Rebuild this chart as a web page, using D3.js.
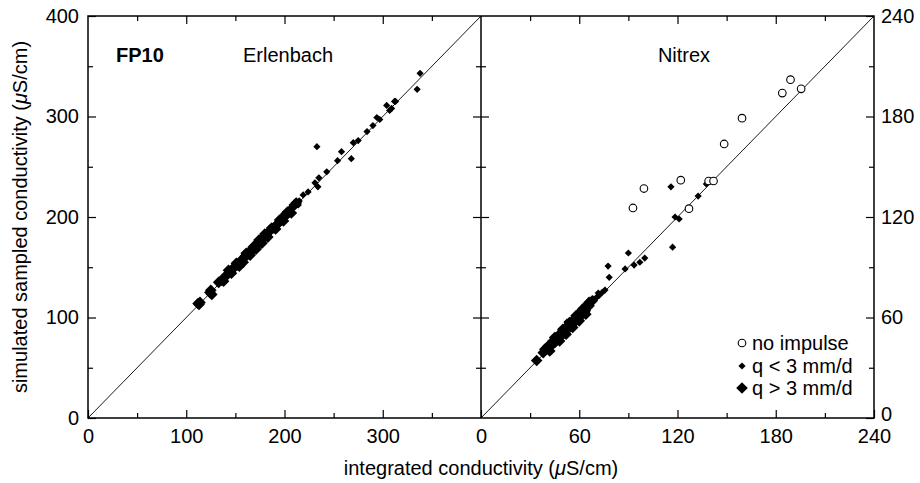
<!DOCTYPE html>
<html><head><meta charset="utf-8">
<script src="https://cdn.jsdelivr.net/npm/d3@7"></script>
<style>
body{margin:0;background:#fff}
svg text{font-family:"Liberation Sans",Arial,Helvetica,sans-serif;fill:#000}
</style>
</head><body>
<svg id="c" width="920" height="483"></svg>
<script>
// ---------- data ----------
const leftTicks = [0, 100, 200, 300];
const leftYTicks = [0, 100, 200, 300, 400];
const leftMinor = [50, 150, 250, 350];
const rightTicks = [0, 60, 120, 180, 240];
const rightMinor = [30, 90, 150, 210];

const panelTitles = ["Erlenbach", "Nitrex"];
const legendLabels = ["no impulse", "q < 3 mm/d", "q > 3 mm/d"];

// Erlenbach, q < 3 mm/d (small diamonds) [integrated, simulated]
const erlSmall = [
  [145,147],[150,151],[155,154],[158,160],[162,161],[166,167],[170,171],[172,170],[176,178],[180,181],
  [184,183],[188,190],[191,192],[195,196],[198,197],[202,204],[205,206],[208,208],[212,213],[215,216],
  [219,222],[224,225],[231,234],[234,230],[235,239],[233,270],[243,245],[254,256],[258,265],[268,258],
  [270,274],[275,276],[284,285],[290,291],[294,299],[297,297],[304,311],[307,306],[309,308],[312,315],
  [313,315],[335,327],[338,343],[147,145],[152,150],[160,158],[168,166],[174,176],[178,176],[186,188],
  [193,195],[200,199],[210,210],[164,163],[156,157],[182,184],[196,194],[206,209],[211,215],[214,212],
  [199,203],[192,189],[185,189],[177,174],[171,175],[165,162]
];
// Erlenbach, q > 3 mm/d (large diamonds)
const erlLarge = [
  [112,114],[113,113],[114,115],[124,125],[126,123],[125,127],[133,135],[136,137],[139,140],[138,136],
  [141,142],[144,145],[143,147],[147,148],[146,144],[149,150],[151,154],[152,153],[154,151],[155,155],
  [157,158],[158,155],[160,161],[161,164],[163,164],[165,162],[166,166],[168,170],[169,170],[171,168],
  [172,173],[174,177],[175,175],[177,174],[178,179],[180,183],[181,182],[183,180],[185,186],[187,189],
  [189,189],[191,188],[193,193],[195,197],[197,198],[199,196],[201,201],[203,205],[205,205],[207,204],
  [210,212],[212,214]
];

// Nitrex, no impulse (open circles)
const nitNone = [
  [92.8,125.4],[99.5,137],[122,142],[127,125],[139,141.5],[142,141.5],[148.5,163.6],[159.4,179],
  [184,194],[189,202],[195.5,196.5]
];
// Nitrex, q < 3 mm/d
const nitSmall = [
  [116,138],[137.6,139.7],[132.6,132.5],[118.5,120],[121,118.8],[117,102],[90,98.5],[100,95.5],
  [77.6,90.7],[78.3,84],[88,89],[93.5,91.3],[97,93],[75.7,76.4],[71.6,74.6],[70.8,72.2],[63.5,67.5],
  [52.5,57.3],[42,41],[44,43],[46,45],[48,47],[50,49],[53,55],[55,57],[57,56],[59,61],[61,63],
  [63,62],[65,64],[67,69],[69,71],[72,73],[74,75],[66,70],[60,64],[56,54]
];
// Nitrex, q > 3 mm/d
const nitLarge = [
  [34,34.3],[38,39],[39,41],[40,41],[41,43],[42,40],[43,44],[44,46],[45,45],[45,48],[46,48],[47,47],
  [48,50],[48,46],[49,49],[50,52],[50,53],[51,51],[52,54],[52,50],[53,53],[54,56],[54,57],[55,55],
  [56,58],[56,54],[57,57],[58,60],[58,61],[59,59],[60,62],[60,58],[61,61],[62,64],[62,65],[63,63],
  [64,66],[64,62],[66,67],[66,69],[68,70]
];

// ---------- layout ----------
const svg = d3.select("#c");
const X0 = 88, XM = 481, X1 = 874, Y0 = 418, Y1 = 16;
const xL = d3.scaleLinear([0, 400], [X0, XM]);
const yL = d3.scaleLinear([0, 400], [Y0, Y1]);
const xR = d3.scaleLinear([0, 240], [XM, X1]);
const yR = d3.scaleLinear([0, 240], [Y0, Y1]);
const FS = 20, MAJ = 8, MIN = 5;

function ax(gen, tx, ty, showLabels) {
  const g = svg.append("g").attr("transform", `translate(${tx},${ty})`).call(gen);
  g.select(".domain").remove();
  g.selectAll(".tick line").attr("stroke", "#000").attr("stroke-width", 1.2);
  g.selectAll("text").style("font-size", FS + "px").attr("fill", "#000");
  if (!showLabels) g.selectAll("text").remove();
  return g;
}
// left panel
ax(d3.axisBottom(xL).tickValues(leftTicks).tickSize(-MAJ).tickPadding(11), 0, Y0, true);
ax(d3.axisBottom(xL).tickValues(leftMinor).tickSize(-MIN).tickFormat(""), 0, Y0, false);
ax(d3.axisTop(xL).tickValues([100,200,300]).tickSize(-MAJ), 0, Y1, false);
ax(d3.axisTop(xL).tickValues(leftMinor).tickSize(-MIN), 0, Y1, false);
ax(d3.axisLeft(yL).tickValues(leftYTicks).tickSize(-MAJ).tickPadding(9), X0, 0, true);
ax(d3.axisLeft(yL).tickValues(leftMinor).tickSize(-MIN), X0, 0, false);
ax(d3.axisRight(yL).tickValues([100,200,300]).tickSize(-MAJ), XM, 0, false);
ax(d3.axisRight(yL).tickValues(leftMinor).tickSize(-MIN), XM, 0, false);
// right panel
ax(d3.axisBottom(xR).tickValues(rightTicks).tickSize(-MAJ).tickPadding(11), 0, Y0, true);
ax(d3.axisBottom(xR).tickValues(rightMinor).tickSize(-MIN), 0, Y0, false);
ax(d3.axisTop(xR).tickValues([60,120,180]).tickSize(-MAJ), 0, Y1, false);
ax(d3.axisTop(xR).tickValues(rightMinor).tickSize(-MIN), 0, Y1, false);
ax(d3.axisLeft(yR).tickValues([60,120,180]).tickSize(-MAJ), XM, 0, false);
ax(d3.axisLeft(yR).tickValues(rightMinor).tickSize(-MIN), XM, 0, false);
const ra = ax(d3.axisRight(yR).tickValues(rightTicks).tickSize(-MAJ).tickPadding(7), X1, 0, true);
ra.selectAll("text").filter(d => d === 0).attr("dy", "0.1em");
ax(d3.axisRight(yR).tickValues(rightMinor).tickSize(-MIN), X1, 0, false);

// frames
svg.append("rect").attr("x", X0).attr("y", Y1).attr("width", X1 - X0).attr("height", Y0 - Y1)
  .attr("fill", "none").attr("stroke", "#000").attr("stroke-width", 1.5);
svg.append("line").attr("x1", XM).attr("x2", XM).attr("y1", Y1).attr("y2", Y0)
  .attr("stroke", "#000").attr("stroke-width", 1.5);

// 1:1 lines
svg.append("line").attr("x1", xL(0)).attr("y1", yL(0)).attr("x2", xL(400)).attr("y2", yL(400))
  .attr("stroke", "#000").attr("stroke-width", 0.9);
svg.append("line").attr("x1", xR(0)).attr("y1", yR(0)).attr("x2", xR(240)).attr("y2", yR(240))
  .attr("stroke", "#000").attr("stroke-width", 0.9);

// markers
const diamondSmall = "M0,-3.6L3.6,0L0,3.6L-3.6,0Z";
const diamondLarge = "M0,-5.8L5.8,0L0,5.8L-5.8,0Z";
function diamonds(data, sx, sy, path) {
  svg.append("g").selectAll("path").data(data).join("path")
    .attr("d", path).attr("fill", "#000")
    .attr("transform", d => `translate(${sx(d[0])},${sy(d[1])})`);
}
diamonds(erlLarge, xL, yL, diamondLarge);
diamonds(erlSmall, xL, yL, diamondSmall);
diamonds(nitLarge, xR, yR, diamondLarge);
diamonds(nitSmall, xR, yR, diamondSmall);
svg.append("g").selectAll("circle").data(nitNone).join("circle")
  .attr("cx", d => xR(d[0])).attr("cy", d => yR(d[1])).attr("r", 3.8)
  .attr("fill", "#fff").attr("stroke", "#000").attr("stroke-width", 1.1);

// titles
svg.append("text").attr("x", 116).attr("y", 62).style("font-size", FS + "px")
  .style("font-weight", "bold").text("FP10");
svg.append("text").attr("x", 243).attr("y", 62).style("font-size", FS + "px").text(panelTitles[0]);
svg.append("text").attr("x", 684).attr("y", 62).attr("text-anchor", "middle")
  .style("font-size", FS + "px").text(panelTitles[1]);

// axis titles
const xt = svg.append("text").attr("x", XM).attr("y", 475).attr("text-anchor", "middle")
  .style("font-size", FS + "px");
xt.append("tspan").text("integrated conductivity (");
xt.append("tspan").style("font-style", "italic").text("μ");
xt.append("tspan").text("S/cm)");
const yt = svg.append("text").attr("transform", `translate(27,${(Y0 + Y1) / 2}) rotate(-90)`)
  .attr("text-anchor", "middle").style("font-size", FS + "px");
yt.append("tspan").text("simulated sampled conductivity (");
yt.append("tspan").style("font-style", "italic").text("μ");
yt.append("tspan").text("S/cm)");

// legend
const lg = svg.append("g");
const lgY = [343, 366, 388];
lg.append("circle").attr("cx", 742).attr("cy", lgY[0]).attr("r", 3.8)
  .attr("fill", "#fff").attr("stroke", "#000").attr("stroke-width", 1.1);
lg.append("path").attr("d", diamondSmall).attr("transform", `translate(742,${lgY[1]})`);
lg.append("path").attr("d", diamondLarge).attr("transform", `translate(742,${lgY[2]})`);
legendLabels.forEach((t, i) => {
  lg.append("text").attr("x", 752).attr("y", lgY[i]).attr("dy", "0.35em")
    .style("font-size", FS + "px").text(t);
});
</script>
</body></html>
